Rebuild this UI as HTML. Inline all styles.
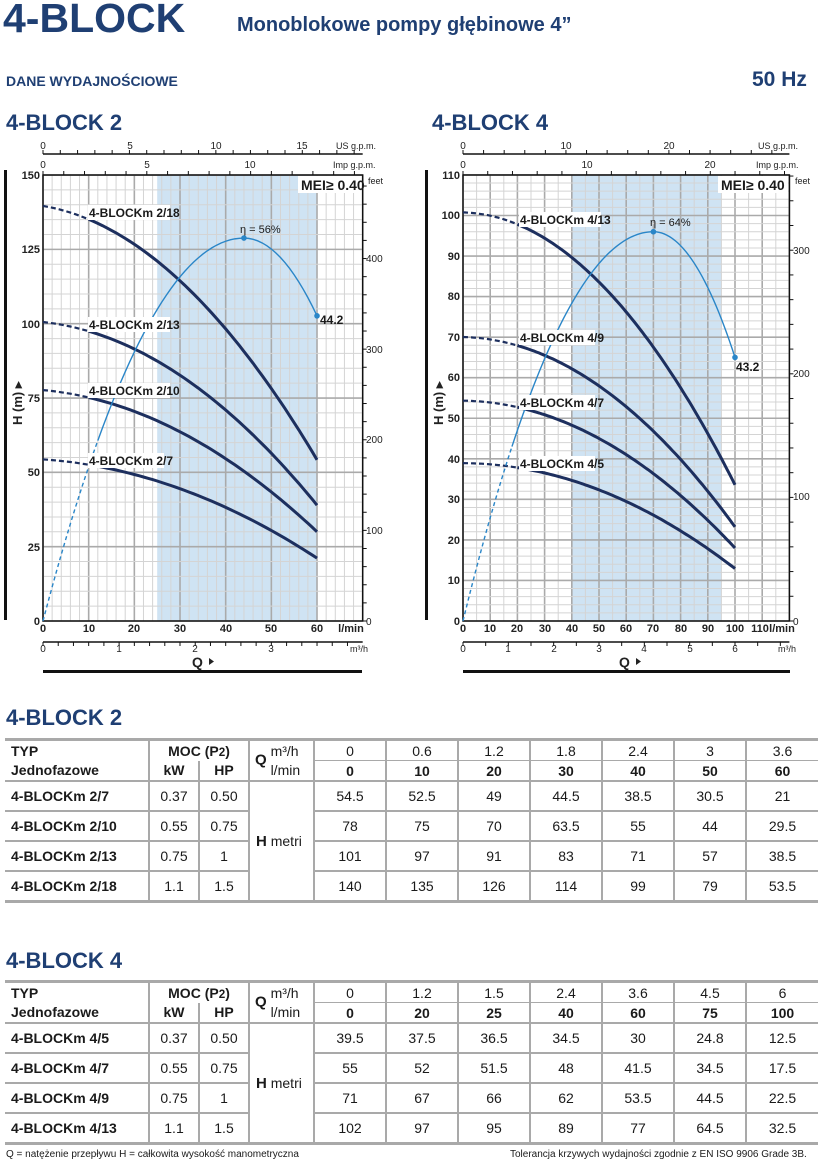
<!DOCTYPE html>
<html><head><meta charset="utf-8">
<style>
body{margin:0;width:818px;height:1172px;background:#fff;position:relative;font-family:"Liberation Sans",sans-serif;overflow:hidden;color:#1a1a1a}
.a{position:absolute;white-space:nowrap}
.blue{color:#1f3f73}
table{border-collapse:collapse;position:absolute;left:5px;width:813px;font-size:14px}
td{border:2px solid #a9a9a9;text-align:center;padding:0;height:28px}
td.l{text-align:left;padding-left:6px;font-weight:bold}
tr.h td{height:19px;border-top:none;border-bottom:none}
</style></head><body>
<div class="a blue" style="left:3px;top:-5px;font-size:41px;font-weight:bold">4-BLOCK</div>
<div class="a blue" style="left:237px;top:14px;font-size:20px;font-weight:bold">Monoblokowe pompy głębinowe 4”</div>
<div class="a blue" style="left:6px;top:73px;font-size:14px;font-weight:bold">DANE WYDAJNOŚCIOWE</div>
<div class="a blue" style="left:752px;top:68px;font-size:21px;font-weight:bold">50 Hz</div>
<div class="a blue" style="left:6px;top:110px;font-size:22px;font-weight:bold">4-BLOCK 2</div>
<div class="a blue" style="left:432px;top:110px;font-size:22px;font-weight:bold">4-BLOCK 4</div>

<svg class="a" style="left:0;top:0" width="818" height="700" font-family="Liberation Sans, sans-serif">
<g id="c1"></g><g id="c2"></g>
<g font-size="10" fill="#222">
<text x="43" y="149" text-anchor="middle">0</text><text x="130" y="149" text-anchor="middle">5</text><text x="216" y="149" text-anchor="middle">10</text><text x="302" y="149" text-anchor="middle">15</text>
<text x="336" y="149" font-size="9">US g.p.m.</text>
<text x="43" y="168" text-anchor="middle">0</text><text x="147" y="168" text-anchor="middle">5</text><text x="250" y="168" text-anchor="middle">10</text>
<text x="333" y="168" font-size="9">Imp g.p.m.</text>
<text x="368" y="184" font-size="9">feet</text>
<text x="366" y="262">400</text><text x="366" y="353">300</text><text x="366" y="443">200</text><text x="366" y="534">100</text><text x="366" y="625">0</text>
<g font-weight="bold" font-size="11" text-anchor="end"><text x="40" y="179">150</text><text x="40" y="253">125</text><text x="40" y="328">100</text><text x="40" y="402">75</text><text x="40" y="476">50</text><text x="40" y="551">25</text><text x="40" y="625">0</text></g>
<g font-weight="bold" font-size="11" text-anchor="middle"><text x="43" y="632">0</text><text x="89" y="632">10</text><text x="134" y="632">20</text><text x="180" y="632">30</text><text x="226" y="632">40</text><text x="271" y="632">50</text><text x="317" y="632">60</text><text x="351" y="632">l/min</text></g>
<text x="43" y="652" text-anchor="middle">0</text><text x="119" y="652" text-anchor="middle">1</text><text x="195" y="652" text-anchor="middle">2</text><text x="271" y="652" text-anchor="middle">3</text><text x="350" y="652" font-size="9">m³/h</text>
<text x="192" y="667" font-weight="bold" font-size="14">Q</text><path d="M209 658l5 3.5-5 3.5z"/>
<text x="463" y="149" text-anchor="middle">0</text><text x="566" y="149" text-anchor="middle">10</text><text x="669" y="149" text-anchor="middle">20</text>
<text x="758" y="149" font-size="9">US g.p.m.</text>
<text x="463" y="168" text-anchor="middle">0</text><text x="587" y="168" text-anchor="middle">10</text><text x="710" y="168" text-anchor="middle">20</text>
<text x="756" y="168" font-size="9">Imp g.p.m.</text>
<text x="795" y="184" font-size="9">feet</text>
<text x="793" y="254">300</text><text x="793" y="377">200</text><text x="793" y="500">100</text><text x="793" y="625">0</text>
<g font-weight="bold" font-size="11" text-anchor="end"><text x="460" y="179">110</text><text x="460" y="219">100</text><text x="460" y="260">90</text><text x="460" y="300">80</text><text x="460" y="341">70</text><text x="460" y="381">60</text><text x="460" y="422">50</text><text x="460" y="463">40</text><text x="460" y="503">30</text><text x="460" y="544">20</text><text x="460" y="584">10</text><text x="460" y="625">0</text></g>
<g font-weight="bold" font-size="11" text-anchor="middle"><text x="463" y="632">0</text><text x="490" y="632">10</text><text x="517" y="632">20</text><text x="545" y="632">30</text><text x="572" y="632">40</text><text x="599" y="632">50</text><text x="626" y="632">60</text><text x="653" y="632">70</text><text x="681" y="632">80</text><text x="708" y="632">90</text><text x="735" y="632">100</text><text x="760" y="632">110</text><text x="782" y="632">l/min</text></g>
<text x="463" y="652" text-anchor="middle">0</text><text x="508" y="652" text-anchor="middle">1</text><text x="554" y="652" text-anchor="middle">2</text><text x="599" y="652" text-anchor="middle">3</text><text x="644" y="652" text-anchor="middle">4</text><text x="690" y="652" text-anchor="middle">5</text><text x="735" y="652" text-anchor="middle">6</text><text x="778" y="652" font-size="9">m³/h</text>
<text x="619" y="667" font-weight="bold" font-size="14">Q</text><path d="M636 658l5 3.5-5 3.5z"/>
</g>
<rect x="4" y="170" width="3" height="450" fill="#111"/>
<rect x="425" y="170" width="3" height="450" fill="#111"/>
<rect x="43" y="670" width="319" height="3" fill="#111"/>
<rect x="463" y="670" width="327" height="3" fill="#111"/>
<g font-weight="bold" font-size="13" fill="#222">
<rect x="10" y="370" width="16" height="60" fill="#fff"/>
<text transform="translate(22,425) rotate(-90)">H (m) ▸</text>
<rect x="432" y="370" width="16" height="60" fill="#fff"/>
<text transform="translate(443,425) rotate(-90)">H (m) ▸</text>
</g>
<g font-weight="bold" font-size="12" fill="#1a1a1a">
<rect x="298" y="176" width="62" height="17" fill="#fff"/><text x="301" y="190" font-size="14">MEI≥ 0.40</text>
<rect x="718" y="176" width="70" height="17" fill="#fff"/><text x="721" y="190" font-size="14">MEI≥ 0.40</text>
<rect x="88" y="205" width="82" height="15" fill="#fff"/><text x="89" y="217">4-BLOCKm 2/18</text>
<rect x="88" y="317" width="82" height="15" fill="#fff"/><text x="89" y="329">4-BLOCKm 2/13</text>
<rect x="88" y="383" width="82" height="15" fill="#fff"/><text x="89" y="395">4-BLOCKm 2/10</text>
<rect x="88" y="453" width="76" height="15" fill="#fff"/><text x="89" y="465">4-BLOCKm 2/7</text>
<rect x="519" y="212" width="82" height="15" fill="#fff"/><text x="520" y="224">4-BLOCKm 4/13</text>
<rect x="519" y="330" width="76" height="15" fill="#fff"/><text x="520" y="342">4-BLOCKm 4/9</text>
<rect x="519" y="395" width="76" height="15" fill="#fff"/><text x="520" y="407">4-BLOCKm 4/7</text>
<rect x="519" y="456" width="76" height="15" fill="#fff"/><text x="520" y="468">4-BLOCKm 4/5</text>
<text x="240" y="233" font-weight="normal" font-size="11">η = 56%</text>
<text x="320" y="324">44.2</text>
<text x="650" y="226" font-weight="normal" font-size="11">η = 64%</text>
<text x="736" y="371">43.2</text>
</g>
</svg>

<div class="a blue" style="left:6px;top:705px;font-size:22px;font-weight:bold">4-BLOCK 2</div>
<table style="top:738px;border-top:3px solid #a9a9a9;border-bottom:3px solid #a9a9a9">
<tr class="h"><td class="l" style="width:137px;border-left:none">TYP</td><td colspan="2" style="font-weight:bold;border-bottom:none">MOC (P<small>2</small>)</td><td rowspan="2" style="width:58px;text-align:left;padding-left:5px"><b style="font-size:15px">Q</b> <span style="display:inline-block;vertical-align:middle;line-height:19px">m³/h<br>l/min</span></td><td style="width:70px;border-bottom:1px solid #a9a9a9">0</td><td style="width:70px;border-bottom:1px solid #a9a9a9">0.6</td><td style="width:70px;border-bottom:1px solid #a9a9a9">1.2</td><td style="width:70px;border-bottom:1px solid #a9a9a9">1.8</td><td style="width:70px;border-bottom:1px solid #a9a9a9">2.4</td><td style="width:70px;border-bottom:1px solid #a9a9a9">3</td><td style="border-bottom:1px solid #a9a9a9;border-right:none">3.6</td></tr>
<tr class="h"><td class="l" style="border-left:none">Jednofazowe</td><td style="width:48px;font-weight:bold">kW</td><td style="width:48px;font-weight:bold">HP</td><td><b>0</b></td><td><b>10</b></td><td><b>20</b></td><td><b>30</b></td><td><b>40</b></td><td><b>50</b></td><td style="border-right:none"><b>60</b></td></tr>
<tr><td class="l" style="border-left:none;border-top:2px solid #a9a9a9">4-BLOCKm 2/7</td><td>0.37</td><td>0.50</td><td rowspan="4" style="text-align:left;padding-left:6px"><b style="font-size:15px">H</b> metri</td><td>54.5</td><td>52.5</td><td>49</td><td>44.5</td><td>38.5</td><td>30.5</td><td style="border-right:none">21</td></tr>
<tr><td class="l" style="border-left:none">4-BLOCKm 2/10</td><td>0.55</td><td>0.75</td><td>78</td><td>75</td><td>70</td><td>63.5</td><td>55</td><td>44</td><td style="border-right:none">29.5</td></tr>
<tr><td class="l" style="border-left:none">4-BLOCKm 2/13</td><td>0.75</td><td>1</td><td>101</td><td>97</td><td>91</td><td>83</td><td>71</td><td>57</td><td style="border-right:none">38.5</td></tr>
<tr><td class="l" style="border-left:none">4-BLOCKm 2/18</td><td>1.1</td><td>1.5</td><td>140</td><td>135</td><td>126</td><td>114</td><td>99</td><td>79</td><td style="border-right:none">53.5</td></tr>
</table>

<div class="a blue" style="left:6px;top:948px;font-size:22px;font-weight:bold">4-BLOCK 4</div>
<table style="top:980px;border-top:3px solid #a9a9a9;border-bottom:3px solid #a9a9a9">
<tr class="h"><td class="l" style="width:137px;border-left:none">TYP</td><td colspan="2" style="font-weight:bold;border-bottom:none">MOC (P<small>2</small>)</td><td rowspan="2" style="width:58px;text-align:left;padding-left:5px"><b style="font-size:15px">Q</b> <span style="display:inline-block;vertical-align:middle;line-height:19px">m³/h<br>l/min</span></td><td style="width:70px;border-bottom:1px solid #a9a9a9">0</td><td style="width:70px;border-bottom:1px solid #a9a9a9">1.2</td><td style="width:70px;border-bottom:1px solid #a9a9a9">1.5</td><td style="width:70px;border-bottom:1px solid #a9a9a9">2.4</td><td style="width:70px;border-bottom:1px solid #a9a9a9">3.6</td><td style="width:70px;border-bottom:1px solid #a9a9a9">4.5</td><td style="border-bottom:1px solid #a9a9a9;border-right:none">6</td></tr>
<tr class="h"><td class="l" style="border-left:none">Jednofazowe</td><td style="width:48px;font-weight:bold">kW</td><td style="width:48px;font-weight:bold">HP</td><td><b>0</b></td><td><b>20</b></td><td><b>25</b></td><td><b>40</b></td><td><b>60</b></td><td><b>75</b></td><td style="border-right:none"><b>100</b></td></tr>
<tr><td class="l" style="border-left:none;border-top:2px solid #a9a9a9">4-BLOCKm 4/5</td><td>0.37</td><td>0.50</td><td rowspan="4" style="text-align:left;padding-left:6px"><b style="font-size:15px">H</b> metri</td><td>39.5</td><td>37.5</td><td>36.5</td><td>34.5</td><td>30</td><td>24.8</td><td style="border-right:none">12.5</td></tr>
<tr><td class="l" style="border-left:none">4-BLOCKm 4/7</td><td>0.55</td><td>0.75</td><td>55</td><td>52</td><td>51.5</td><td>48</td><td>41.5</td><td>34.5</td><td style="border-right:none">17.5</td></tr>
<tr><td class="l" style="border-left:none">4-BLOCKm 4/9</td><td>0.75</td><td>1</td><td>71</td><td>67</td><td>66</td><td>62</td><td>53.5</td><td>44.5</td><td style="border-right:none">22.5</td></tr>
<tr><td class="l" style="border-left:none">4-BLOCKm 4/13</td><td>1.1</td><td>1.5</td><td>102</td><td>97</td><td>95</td><td>89</td><td>77</td><td>64.5</td><td style="border-right:none">32.5</td></tr>
</table>
<div class="a" style="left:6px;top:1149px;font-size:10px">Q = natężenie przepływu H = całkowita wysokość manometryczna</div>
<div class="a" style="left:510px;top:1149px;font-size:10px">Tolerancja krzywych wydajności zgodnie z EN ISO 9906 Grade 3B.</div>

<script>
var NS="http://www.w3.org/2000/svg";
function el(g,t,a){var e=document.createElementNS(NS,t);for(var k in a)e.setAttribute(k,a[k]);g.appendChild(e);return e;}
function fit(xs,ys){ // quadratic least squares
 var S=[[0,0,0],[0,0,0],[0,0,0]],B=[0,0,0];
 for(var i=0;i<xs.length;i++){var v=[1,xs[i],xs[i]*xs[i]];for(var r=0;r<3;r++){B[r]+=v[r]*ys[i];for(var c=0;c<3;c++)S[r][c]+=v[r]*v[c];}}
 for(var r=0;r<3;r++){S[r].push(B[r]);}
 for(var p=0;p<3;p++){for(var r=p+1;r<3;r++){var f=S[r][p]/S[p][p];for(var c=p;c<4;c++)S[r][c]-=f*S[p][c];}}
 var x=[0,0,0];for(var r=2;r>=0;r--){var s=S[r][3];for(var c=r+1;c<3;c++)s-=S[r][c]*x[c];x[r]=s/S[r][r];}
 return function(q){return x[0]+x[1]*q+x[2]*q*q;};
}
function chart(id,c){
 var g=document.getElementById(id);
 var X=function(q){return c.x0+c.sx*q},Y=function(h){return 621-c.sy*h};
 var R=X(c.qmax),T=175;
 el(g,"rect",{x:X(c.sh[0]),y:T,width:X(c.sh[1])-X(c.sh[0]),height:621-T,fill:"#cfe3f3"});
 for(var q=0;q<=c.qmax+1e-6;q+=c.qm){var maj=Math.abs(q/c.qM-Math.round(q/c.qM))<1e-6;el(g,"line",{x1:X(q),x2:X(q),y1:T,y2:621,stroke:maj?"#aaa":"#d4d4d4","stroke-width":maj?1.6:1});}
 for(var h=0;h<=c.hmax+1e-6;h+=c.hm){var maj=Math.abs(h/c.hM-Math.round(h/c.hM))<1e-6;el(g,"line",{x1:c.x0,x2:R,y1:Y(h),y2:Y(h),stroke:maj?"#aaa":"#d4d4d4","stroke-width":maj?1.6:1});}
 el(g,"rect",{x:c.x0,y:T,width:R-c.x0,height:621-T,fill:"none",stroke:"#111","stroke-width":1.5});
 el(g,"line",{x1:c.x0,x2:R,y1:154,y2:154,stroke:"#111","stroke-width":1.5});
 for(var u=0;X(u*c.us)<=R;u+=c.ust)el(g,"line",{x1:X(u*c.us),x2:X(u*c.us),y1:150,y2:154,stroke:"#111"});
 for(var u=0;X(u*c.im)<=R;u+=c.imt)el(g,"line",{x1:X(u*c.im),x2:X(u*c.im),y1:171,y2:175,stroke:"#111"});
 el(g,"line",{x1:c.x0,x2:R,y1:642,y2:642,stroke:"#111","stroke-width":1.5});
 for(var u=0;X(u*16.667)<=R;u+=c.mt)el(g,"line",{x1:X(u*16.667),x2:X(u*16.667),y1:642,y2:646,stroke:"#111"});
 for(var f=0;f*0.3048<=c.hmax;f+=20)el(g,"line",{x1:R,x2:R+4,y1:Y(f*0.3048),y2:Y(f*0.3048),stroke:"#111"});
 var qe=c.q[c.q.length-1];
 c.curves.forEach(function(h){var F=fit(c.q,h),pd=[],ps=[];
  for(var q=0;q<=qe+1e-6;q+=1){var pt=[X(q).toFixed(1),Y(F(q)).toFixed(1)];if(q<=c.dq)pd.push(pt);if(q>=c.dq)ps.push(pt);}
  el(g,"polyline",{points:pd.join(" "),fill:"none",stroke:"#1d2f5e","stroke-width":2.2,"stroke-dasharray":"5 3"});
  el(g,"polyline",{points:ps.join(" "),fill:"none",stroke:"#1d2f5e","stroke-width":3});});
 var e=c.e,pd=[],ps=[];
 for(var q=0;q<=e.end+1e-6;q+=1){var w=q<e.pk?e.wl:e.wr,v=e.h*(1-Math.pow((q-e.pk)/w,2));var pt=[X(q),Y(Math.max(v,0))];if(q<=e.ds)pd.push(pt);if(q>=e.ds)ps.push(pt);}
 el(g,"polyline",{points:pd.join(" "),fill:"none",stroke:"#2a86c8","stroke-width":1.4,"stroke-dasharray":"4 3"});
 el(g,"polyline",{points:ps.join(" "),fill:"none",stroke:"#2a86c8","stroke-width":1.4});
 var ev=e.h*(1-Math.pow((e.end-e.pk)/e.wr,2));
 el(g,"circle",{cx:X(e.pk),cy:Y(e.h),r:2.8,fill:"#2a86c8"});
 el(g,"circle",{cx:X(e.end),cy:Y(ev),r:2.8,fill:"#2a86c8"});
}
chart("c1",{x0:43,sx:4.567,sy:2.973,qmax:70,hmax:150,qm:2,qM:10,hm:5,hM:25,sh:[25,60],us:3.785,ust:1,im:4.546,imt:1,mt:0.2,
 q:[0,10,20,30,40,50,60],dq:10,curves:[[54.5,52.5,49,44.5,38.5,30.5,21],[78,75,70,63.5,55,44,29.5],[101,97,91,83,71,57,38.5],[140,135,126,114,99,79,53.5]],
 e:{pk:44,h:128.8,wl:44,wr:35.5,end:60,ds:12}});
chart("c2",{x0:463,sx:2.72,sy:4.055,qmax:120,hmax:110,qm:5,qM:10,hm:2,hM:10,sh:[40,95],us:3.785,ust:2,im:4.546,imt:2,mt:0.5,
 q:[0,20,25,40,60,75,100],dq:20,curves:[[39.5,37.5,36.5,34.5,30,24.8,12.5],[55,52,51.5,48,41.5,34.5,17.5],[71,67,66,62,53.5,44.5,22.5],[102,97,95,89,77,64.5,32.5]],
 e:{pk:70,h:96,wl:70,wr:52.8,end:100,ds:18}});
</script>
</body></html>
